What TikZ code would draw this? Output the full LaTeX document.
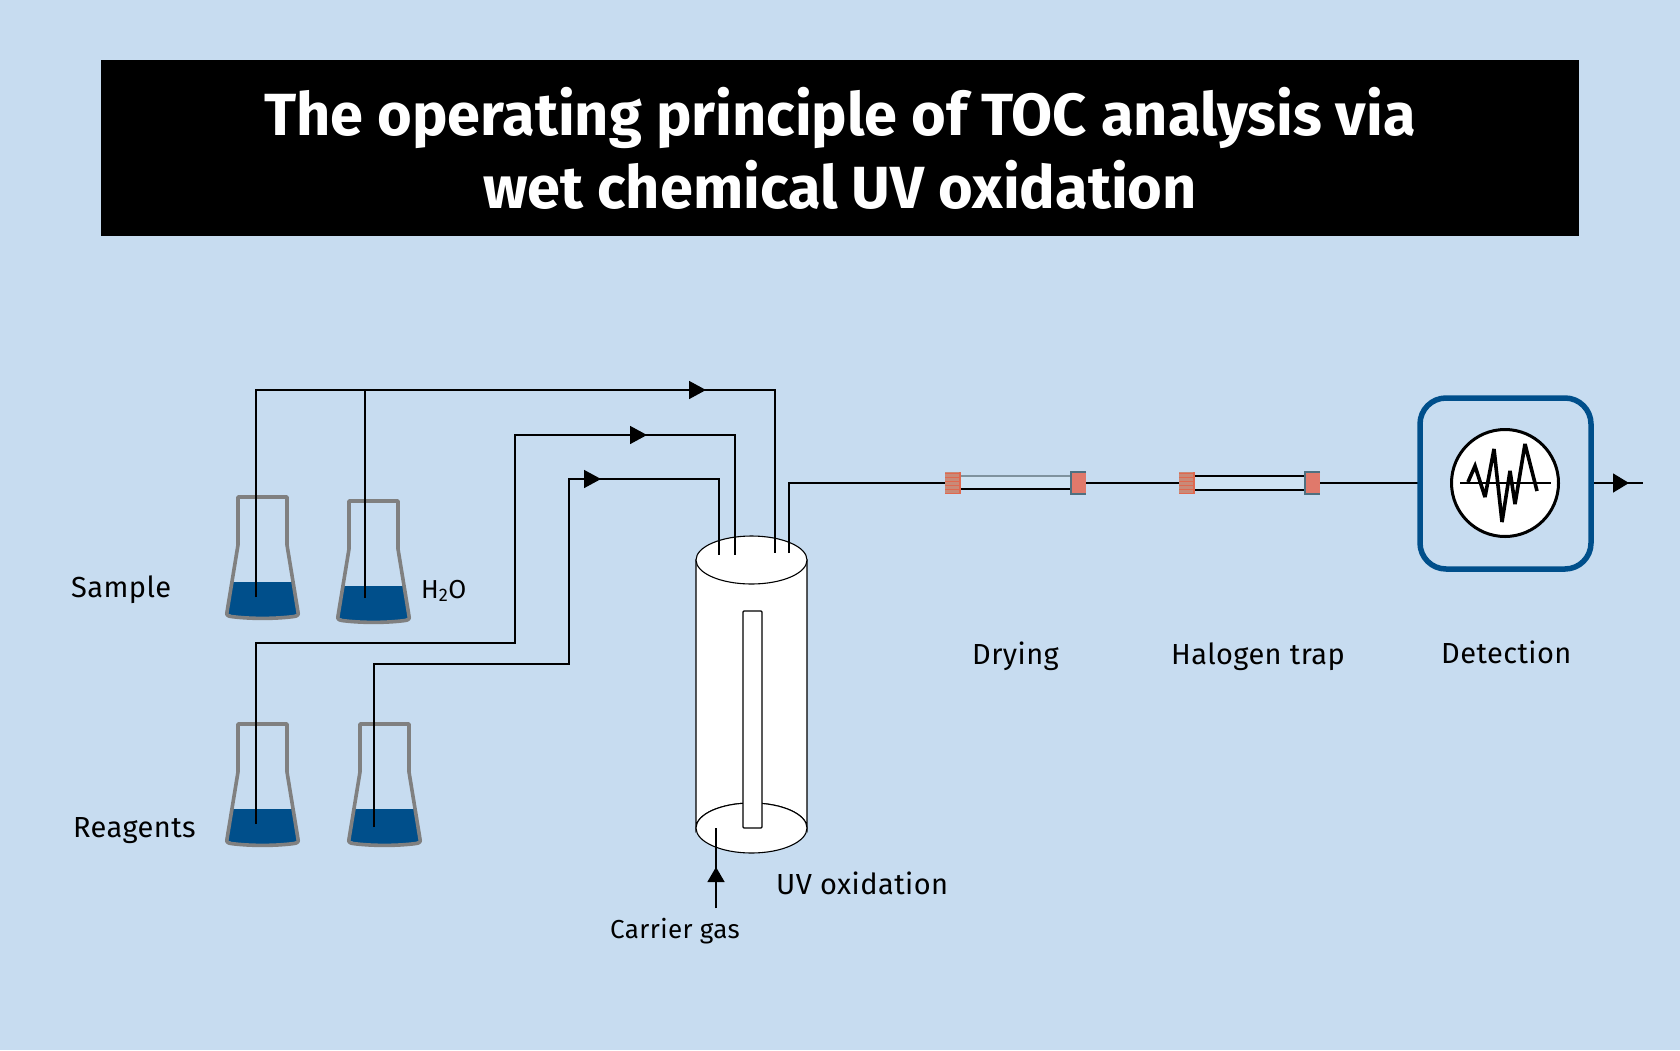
\documentclass[tikz,border=0pt]{standalone}
\usepackage{fontspec}
\setmainfont{Fira Sans}
\newfontfamily\lblfont[LetterSpace=1.5]{Fira Sans}
\usetikzlibrary{arrows.meta}
\definecolor{bgblue}{HTML}{C7DCF0}
\definecolor{deepblue}{HTML}{004F8B}
\definecolor{flaskgrey}{HTML}{808080}
\definecolor{capred}{HTML}{E0796B}
\definecolor{capdull}{HTML}{C98A78}
\definecolor{capline}{HTML}{E0684F}
\definecolor{capedge}{HTML}{4E7080}
\definecolor{tubegrey}{HTML}{7F929E}
\definecolor{tubefill}{HTML}{CFE3F3}
\tikzset{
  pipe/.style={draw=black,line width=1.5pt,line join=miter},
  flowhead/.style={pipe,-{Triangle[length=17pt,width=18pt]}},
  lbl/.style={anchor=base west,inner sep=0pt,font=\lblfont\fontsize{29}{29}\selectfont,text=black},
  smalllbl/.style={lbl,font=\lblfont\fontsize{26}{27}\selectfont},
  flaskwall/.style={draw=flaskgrey,line width=3.6pt,line join=round},
  liquid/.style={fill=deepblue},
  vessel/.style={draw=black,line width=1.1pt,fill=white},
  capstripe/.style={draw=capline,line width=0.8pt},
  tubeline/.style={draw=black,line width=1.2pt},
  titletext/.style={anchor=base,inner sep=0pt,text=white,font=\bfseries\fontsize{59.5}{60}\selectfont},
}
\newcommand{\tocflask}[2]{%
  \begin{scope}[shift={(#1,#2)}]
    \fill[liquid] (232,582) -- (293,582) -- (298,614) .. controls (280,619) and (245,619) .. (228,614) -- cycle;
    \draw[flaskwall] (238,497) -- (287,497) -- (287,545) -- (298,612) .. controls (299,615) and (297,616) .. (294,616.5)
      .. controls (275,619) and (250,619) .. (231,616.5) .. controls (228,616) and (226,615) .. (227,612) -- (238,545) -- cycle;
  \end{scope}}
\newcommand{\tocleftcap}[2]{%
  \fill[capdull] (#1,472) rectangle (#2,494);
  \foreach \yy in {473,477,481,485,489,493}{\draw[capstripe] (#1,\yy) -- (#2,\yy);}
  \fill[capline] (#2-2,472) rectangle (#2,494);
}
\newcommand{\tocrightcap}[2]{%
  \fill[capred] (#1,472) rectangle (#2,494);
  \draw[capedge,line width=1.1pt] (#2,472) -- (#1,472) -- (#1,494) -- (#2,494);
}
\begin{document}
\begin{tikzpicture}[x=1pt,y=-1pt]
\useasboundingbox (0,0) rectangle (1680,1050);
\fill[bgblue] (0,0) rectangle (1680,1050);
% title
\fill[black] (101,60) rectangle (1579,236);
\node[titletext] (t1) at (840,135.5) {The operating principle of TOC analysis via};
\node[titletext] (t2) at (840,208) {wet chemical UV oxidation};
% flasks
\tocflask{0}{0}
\tocflask{111}{4}
\tocflask{0}{227}
\tocflask{122}{227}
% reactor
\path[vessel] (696,560) -- (696,828) arc[start angle=180,end angle=360,x radius=55.5,y radius=25] -- (807,560) -- cycle;
\draw[vessel] (696,828) arc[start angle=180,end angle=360,x radius=55.5,y radius=25]
  arc[start angle=0,end angle=180,x radius=55.5,y radius=25] -- cycle;
\draw[vessel] (751.5,560) ellipse[x radius=55.5,y radius=24];
\draw[vessel,rounded corners=1pt] (743,611) rectangle (762,828);
% named points
\coordinate (s1) at (256,597);
\coordinate (s2) at (365,598);
\coordinate (r1) at (256,824);
\coordinate (r2) at (374,827);
\coordinate (in1) at (775,553);
\coordinate (in2) at (735,555);
\coordinate (in3) at (719,555);
\coordinate (out) at (789,553);
\coordinate (f1l) at (945,483);
\coordinate (f1r) at (1086,483);
\coordinate (f2l) at (1179,483);
\coordinate (f2r) at (1320,483);
% pipes
\draw[pipe] (s1) |- (in1 |- 0,390) -- (in1);
\draw[pipe] (s2) -- (365,390);
\draw[pipe] (r1) |- (515,643) |- (735,435) -- (in2);
\draw[pipe] (r2) |- (569,664) |- (719,479) -- (in3);
\draw[pipe] (out) |- (f1l);
\draw[flowhead] (680,390) -- (706,390);
\draw[flowhead] (620,435) -- (647,435);
\draw[flowhead] (575,479) -- (601,479);
\coordinate (cg) at (716,908);
\coordinate (cgend) at (716,828);
\draw[pipe] (cg) -- (cgend);
\draw[pipe,-{Triangle[length=15pt,width=17pt]}] (cg) -- (716,867);
% filters
\fill[tubefill] (961,476) rectangle (1071,489);
\fill[tubefill] (1195,476) rectangle (1305,490);
\draw[tubeline,draw=tubegrey,line width=1.6pt] (961,476) -- (1071,476);
\draw[tubeline] (961,489) -- (1071,489);
\draw[tubeline] (1195,476) -- (1305,476);
\draw[tubeline] (1195,490) -- (1305,490);
\tocleftcap{945}{961}
\tocrightcap{1071}{1086}
\tocleftcap{1179}{1195}
\tocrightcap{1305}{1320}
\draw[pipe] (f1r) -- (f2l);
\coordinate (detin) at (1420,483);
\draw[pipe] (f2r) -- (detin);
% detector
\draw[draw=deepblue,line width=5.5pt,rounded corners=26pt] (1420,398) rectangle (1591,569);
\draw[fill=white,draw=black,line width=3pt] (1505,483) circle[radius=53.5];
\draw[line width=1.1pt] (1460,483) -- (1551,483);
\draw[line width=3.6pt,line join=miter,miter limit=3] (1468,482) -- (1475,466) -- (1485,497) -- (1494,449) -- (1502,522) -- (1510,471) -- (1515,504) -- (1525,444) -- (1537,491);
\coordinate (detout) at (1594,483);
\coordinate (end) at (1643,483);
\draw[pipe] (detout) -- (end);
\draw[pipe,-{Triangle[length=16pt,width=19pt]}] (detout) -- (1629,483);
% labels
\node[lbl] (sample) at (71,597) {Sample};
\node[smalllbl] (water) at (421,598) {H\textsubscript{2}O};
\node[lbl] (reagents) at (73,837) {Reagents};
\node[lbl] (drying) at (972,664) {Drying};
\node[lbl] (halogen) at (1171,664) {Halogen trap};
\node[lbl] (detection) at (1441,663) {Detection};
\node[lbl] (uv) at (776,894) {UV oxidation};
\node[smalllbl] (carrier) at (610,938) {Carrier gas};
\end{tikzpicture}
\end{document}
